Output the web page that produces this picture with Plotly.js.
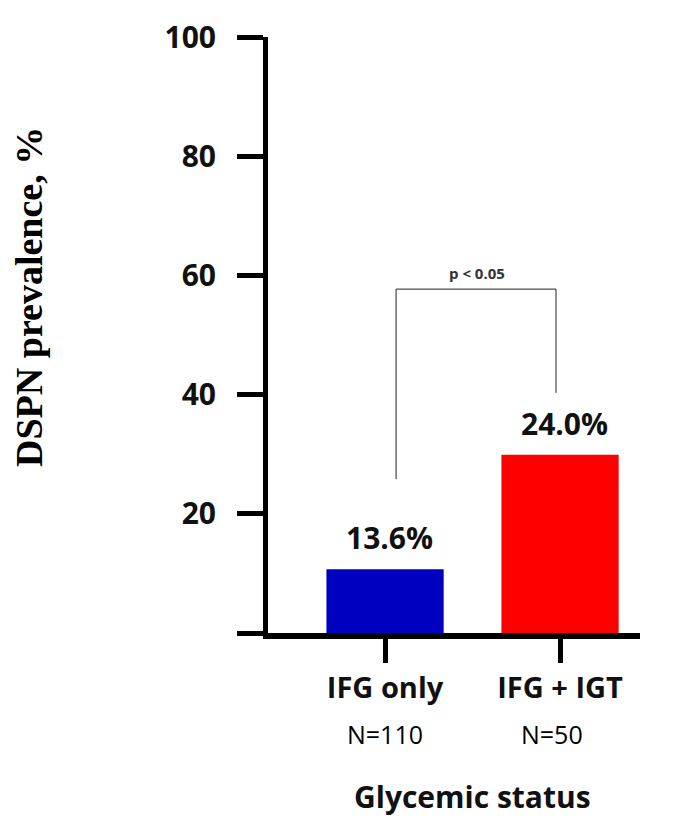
<!DOCTYPE html>
<html>
<head>
<meta charset="utf-8">
<script src="https://cdn.plot.ly/plotly-3.0.1.min.js"></script>
<style>html,body{margin:0;padding:0;background:#fff;}#chart{width:673px;height:818px;}</style>
</head>
<body>
<div id="chart"></div>
<script>
// ---- data ----
var categories = ['IFG only', 'IFG + IGT'];
var prevalence = [10.7, 29.9];            // bar heights as drawn
var barLabels = ['13.6%', '24.0%'];       // printed values above bars
var sampleSizes = ['N=110', 'N=50'];
var barColors = ['#0000C0', '#FF0000'];
var yTickVals = [0, 20, 40, 60, 80, 100];
var yTickText = ['', '20', '40', '60', '80', '100'];
var pText = 'p < 0.05';

// ---- styling ----
var sans = 'Open Sans, Arial, sans-serif';
var serif = 'Liberation Serif, Times New Roman, serif';

var trace = {
  type: 'bar',
  x: categories,
  y: prevalence,
  width: 0.67,
  marker: {color: barColors, line: {width: 0}},
  hoverinfo: 'skip'
};

var annotations = [];
for (var i = 0; i < categories.length; i++) {
  annotations.push({
    x: categories[i], y: prevalence[i], xref: 'x', yref: 'y',
    text: barLabels[i], showarrow: false, xanchor: 'center', yanchor: 'bottom',
    xshift: 4, yshift: 9,
    font: {family: sans, size: 30, weight: 'bold', color: '#111'}
  });
  annotations.push({
    x: categories[i], y: -0.169, xref: 'x', yref: 'paper',
    text: sampleSizes[i], showarrow: false, xanchor: 'center', yanchor: 'middle',
    xshift: i === 1 ? -8 : 0,
    font: {family: sans, size: 25, color: '#000'}
  });
}
// significance label
annotations.push({
  x: 0.526, y: 60.4, xref: 'x', yref: 'y', text: pText, showarrow: false,
  xanchor: 'center', yanchor: 'middle',
  font: {family: sans, size: 15, weight: 'bold', color: '#333'}
});
// axis titles
annotations.push({
  x: -0.6425, y: 0.5638, xref: 'paper', yref: 'paper', text: 'DSPN prevalence, %',
  textangle: -90, showarrow: false, xanchor: 'center', yanchor: 'middle',
  font: {family: serif, size: 38, weight: 'bold', color: '#000'}
});
annotations.push({
  x: 0.551, y: -0.274, xref: 'paper', yref: 'paper', text: 'Glycemic status',
  showarrow: false, xanchor: 'center', yanchor: 'middle',
  font: {family: sans, size: 30, weight: 'bold', color: '#111'}
});

// significance bracket (x in category units, y in data units)
var br = {x0: 0.063, x1: 0.977, yTop: 57.7, yLeft: 25.8, yRight: 40.3};
var shapes = [
  {type: 'line', xref: 'x', yref: 'y', x0: br.x0, x1: br.x0, y0: br.yLeft, y1: br.yTop, line: {color: '#222', width: 1}},
  {type: 'line', xref: 'x', yref: 'y', x0: br.x0, x1: br.x1, y0: br.yTop, y1: br.yTop, line: {color: '#222', width: 1}},
  {type: 'line', xref: 'x', yref: 'y', x0: br.x1, x1: br.x1, y0: br.yTop, y1: br.yRight, line: {color: '#222', width: 1}}
];

var layout = {
  width: 673, height: 818,
  margin: {l: 268, r: 33, t: 37, b: 185},
  paper_bgcolor: '#fff', plot_bgcolor: '#fff',
  showlegend: false,
  xaxis: {
    type: 'category',
    range: [-0.669, 1.457],
    showline: true, linecolor: '#000', linewidth: 6,
    ticks: 'outside', ticklen: 24, tickwidth: 5, tickcolor: '#000',
    showgrid: false, zeroline: false,
    tickfont: {family: sans, size: 29, weight: 'bold', color: '#111'},
    fixedrange: true
  },
  yaxis: {
    range: [0, 100],
    tickvals: yTickVals, ticktext: yTickText,
    showline: true, linecolor: '#000', linewidth: 5,
    ticks: 'outside', ticklen: 26, tickwidth: 5, tickcolor: '#000',
    ticklabelstandoff: 15,
    showgrid: false, zeroline: false,
    tickfont: {family: sans, size: 30, weight: 'bold', color: '#111'},
    fixedrange: true
  },
  annotations: annotations,
  shapes: shapes
};

Plotly.newPlot('chart', [trace], layout, {displayModeBar: false, staticPlot: true});
</script>
</body>
</html>
